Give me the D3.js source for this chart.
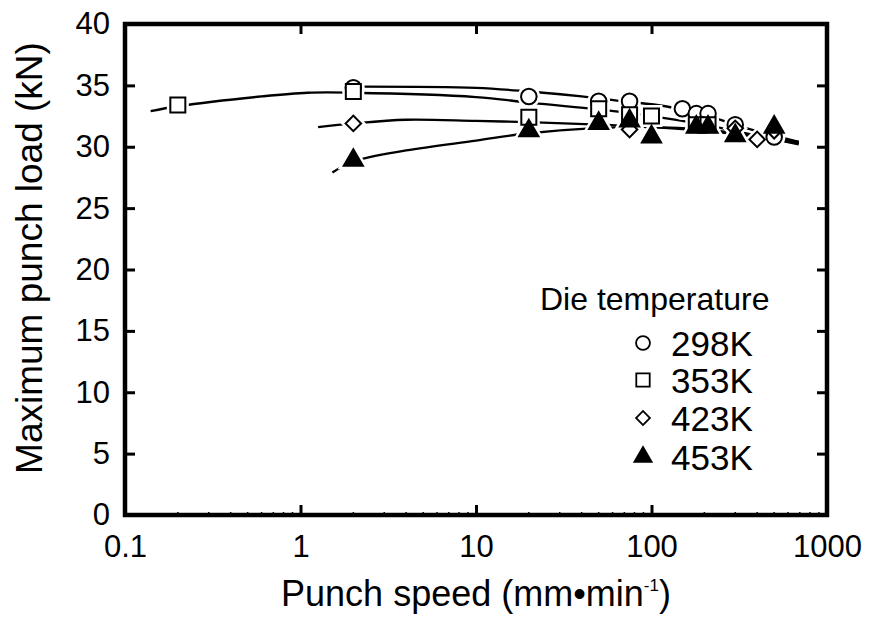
<!DOCTYPE html>
<html lang="en">
<head>
<meta charset="UTF-8">
<title>Maximum punch load vs punch speed</title>
<script src="https://d3js.org/d3.v7.min.js"></script>
<style>
  body { margin: 0; background: #fff; }
  text { font-family: "Liberation Sans", Arial, sans-serif; fill: #000; }
</style>
</head>
<body>
<svg id="chart"></svg>
<script>
// ---- data ----
const xTicks = [0.1, 1, 10, 100, 1000];
const yTicks = [0, 5, 10, 15, 20, 25, 30, 35, 40];
const temps = ["298K", "353K", "423K", "453K"];

// measured points [speed mm/min, load kN]
const pts298 = [[2, 34.8], [20, 34.1], [50, 33.7], [75, 33.7], [150, 33.1], [180, 32.7], [210, 32.7], [300, 31.8], [500, 30.8]];
const pts353 = [[0.2, 33.4], [2, 34.5], [20, 32.4], [50, 33.1], [75, 32.6], [100, 32.5], [180, 31.8], [210, 31.8]];
const pts423 = [[2, 31.9], [75, 31.4], [300, 31.5], [400, 30.6], [500, 31.3]];
const pts453 = [[2, 28.9], [20, 31.3], [50, 31.9], [75, 32.1], [100, 30.8], [180, 31.6], [210, 31.6], [300, 30.9], [500, 31.6]];

// hand-drawn trend curves
const fit298 = [[2, 34.9], [10, 34.8], [20, 34.5], [40, 34.1], [70, 33.7], [120, 33.3], [200, 32.6], [350, 31.5], [690, 30.4]];
const fit353 = [[0.14, 32.9], [0.2, 33.3], [0.6, 34.1], [1.1, 34.4], [2, 34.4], [10, 34.05], [20, 33.6], [45, 33.1], [100, 32.5], [200, 31.8], [400, 30.9], [690, 30.2]];
const fit423 = [[1.26, 31.6], [2, 31.9], [4, 32.2], [10, 32.1], [20, 32.0], [50, 31.8], [100, 31.6], [200, 31.3], [400, 30.8], [690, 30.3]];
const fit453 = [[1.52, 27.9], [2, 28.8], [4, 29.7], [10, 30.5], [20, 31.1], [45, 31.5], [100, 31.6], [200, 31.4], [400, 30.9], [690, 30.4]];

const points = [pts298, pts353, pts423, pts453];
const fits = [fit298, fit353, fit423, fit453];

// ---- layout ----
const W = 870, H = 617;
const plotL = 125, plotR = 827, plotT = 24, plotB = 515;

const svg = d3.select("#chart").attr("width", W).attr("height", H);

const x = d3.scaleLog().domain([0.1, 1000]).range([plotL, plotR]);
const y = d3.scaleLinear().domain([0, 40]).range([plotB, plotT]);

// minor ticks on the log axis
const minor = [];
[0.1, 1, 10, 100].forEach(d => { for (let k = 2; k <= 9; k++) minor.push(d * k); });

// bottom axis, ticks pointing inward
const xAxis = svg.append("g")
  .attr("transform", `translate(0,${plotB})`)
  .call(d3.axisBottom(x).tickValues(xTicks).tickFormat(d => d3.format("~g")(d))
    .tickSizeInner(-10).tickSizeOuter(0).tickPadding(20));
xAxis.select(".domain").remove();
xAxis.selectAll("line").attr("stroke-width", 3);
xAxis.selectAll("text").attr("font-size", 31);

svg.append("g")
  .attr("transform", `translate(0,${plotB})`)
  .selectAll("line").data(minor).join("line")
  .attr("x1", d => x(d)).attr("x2", d => x(d))
  .attr("y1", 0).attr("y2", -3).attr("stroke", "#000").attr("stroke-width", 1.5);

// top axis ticks
svg.append("g")
  .attr("transform", `translate(0,${plotT})`)
  .call(d3.axisTop(x).tickValues(xTicks.slice(1, 4)).tickFormat("").tickSizeInner(-10).tickSizeOuter(0))
  .call(g => g.select(".domain").remove())
  .selectAll("line").attr("stroke-width", 3);

// left axis
const yAxis = svg.append("g")
  .attr("transform", `translate(${plotL},0)`)
  .call(d3.axisLeft(y).tickValues(yTicks).tickSizeInner(-10).tickSizeOuter(0).tickPadding(15));
yAxis.select(".domain").remove();
yAxis.selectAll("line").attr("stroke-width", 3);
yAxis.selectAll("text").attr("font-size", 31);

// right axis ticks
svg.append("g")
  .attr("transform", `translate(${plotR},0)`)
  .call(d3.axisRight(y).tickValues(yTicks).tickFormat("").tickSizeInner(-10).tickSizeOuter(0))
  .call(g => g.select(".domain").remove())
  .selectAll("line").attr("stroke-width", 3);

// frame
svg.append("rect")
  .attr("x", plotL).attr("y", plotT)
  .attr("width", plotR - plotL).attr("height", plotB - plotT)
  .attr("fill", "none").attr("stroke", "#000").attr("stroke-width", 4.5);

// axis titles
svg.append("text")
  .attr("transform", `translate(476,606)`)
  .attr("text-anchor", "middle").attr("font-size", 36)
  .call(t => {
    t.append("tspan").text("Punch speed (mm•min");
    t.append("tspan").attr("font-size", 17).attr("dy", -15).text("-1");
    t.append("tspan").attr("dy", 15).text(")");
  });

svg.append("text")
  .attr("transform", `translate(42,258) rotate(-90)`)
  .attr("text-anchor", "middle").attr("font-size", 37)
  .text("Maximum punch load (kN)");

// curves
const line = d3.line()
  .x(d => x(d[0])).y(d => y(d[1]))
  .curve(d3.curveCatmullRom.alpha(0.5));

svg.append("g").selectAll("path").data(fits).join("path")
  .attr("d", line)
  .attr("fill", "none").attr("stroke", "#000").attr("stroke-width", 2.3);

// markers
const symbols = [
  { type: d3.symbolCircle, size: 190, rot: 0, fill: "#fff" },
  { type: d3.symbolSquare, size: 225, rot: 0, fill: "#fff" },
  { type: d3.symbolSquare, size: 120, rot: 45, fill: "#fff" },
  { type: d3.symbolTriangle, size: 160, rot: 0, fill: "#000" }
];

// white halos first so the curves break around the markers
const halos = svg.append("g");
const markers = svg.append("g");
points.forEach((pts, i) => {
  const s = symbols[i];
  halos.append("g").selectAll("path").data(pts).join("path")
    .attr("d", d3.symbol().type(s.type).size(s.size))
    .attr("transform", d => `translate(${x(d[0])},${y(d[1])}) rotate(${s.rot})`)
    .attr("fill", "#fff").attr("stroke", "#fff").attr("stroke-width", 7);
  markers.append("g").selectAll("path").data(pts).join("path")
    .attr("d", d3.symbol().type(s.type).size(s.size))
    .attr("transform", d => `translate(${x(d[0])},${y(d[1])}) rotate(${s.rot})`)
    .attr("fill", s.fill).attr("stroke", "#000").attr("stroke-width", 2);
});

// legend
const legend = svg.append("g");
legend.append("text")
  .attr("transform", `translate(540,310)`)
  .attr("font-size", 32).text("Die temperature");

const legendY = [343, 380, 418, 457];
temps.forEach((t, i) => {
  const s = symbols[i];
  legend.append("path")
    .attr("d", d3.symbol().type(s.type).size(s.size * 0.8))
    .attr("transform", `translate(643,${legendY[i]}) rotate(${s.rot})`)
    .attr("fill", s.fill).attr("stroke", "#000").attr("stroke-width", 1.8);
  legend.append("text")
    .attr("transform", `translate(671,${legendY[i] + 13})`)
    .attr("font-size", 35).text(t);
});
</script>
</body>
</html>
